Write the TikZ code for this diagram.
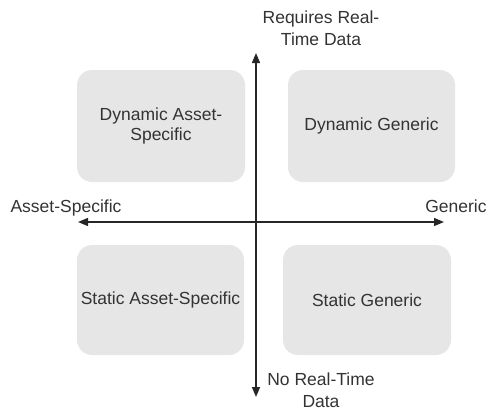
\documentclass[tikz,border=0pt]{standalone}
\usepackage{fontspec}
\setmainfont{Liberation Sans}
\usetikzlibrary{arrows.meta}
\definecolor{boxfill}{HTML}{E6E6E6}
\definecolor{txt}{HTML}{333333}
\begin{document}
\begin{tikzpicture}[x=1pt,y=-1pt,
  quad/.style={draw=none, fill=boxfill, rounded corners=15pt, inner sep=0pt,
    align=center, text=txt, font=\fontsize{17.5}{20.5}\selectfont},
  lbl/.style={text=txt, align=center, inner sep=0pt, font=\fontsize{17.5}{21.5}\selectfont},
  axis/.style={line width=1.3pt, draw=black!85,
    {Triangle[length=10pt,width=8pt]}-{Triangle[length=10pt,width=8pt]}}]
\useasboundingbox (0,0) rectangle (488,410);

\node[quad, minimum width=168pt, minimum height=112pt] (dyas) at (161,126) {Dynamic Asset-\\Specific};
\node[quad, minimum width=167pt, minimum height=112pt] (dyge) at (371.5,126) {Dynamic Generic};
\node[quad, minimum width=167pt, minimum height=110pt] (stas) at (160.5,300) {Static Asset-Specific};
\node[quad, minimum width=168pt, minimum height=110pt] (stge) at (367,300) {Static Generic};

\coordinate (left) at (78,222);
\coordinate (right) at (444,222);
\coordinate (top) at (256,53);
\coordinate (bottom) at (256,397);

\draw[axis] (left) -- (right);
\draw[axis] (bottom) -- (top);

\node[lbl, anchor=base] (lasset) at (66,212) {Asset-Specific};
\node[lbl, anchor=base] (lgen) at (456,212) {Generic};
\node[lbl, anchor=base] (lreq) at (321,45) {Requires Real-\\Time Data};
\node[lbl, anchor=base] (lno) at (321,407) {No Real-Time\\Data};
\end{tikzpicture}
\end{document}
